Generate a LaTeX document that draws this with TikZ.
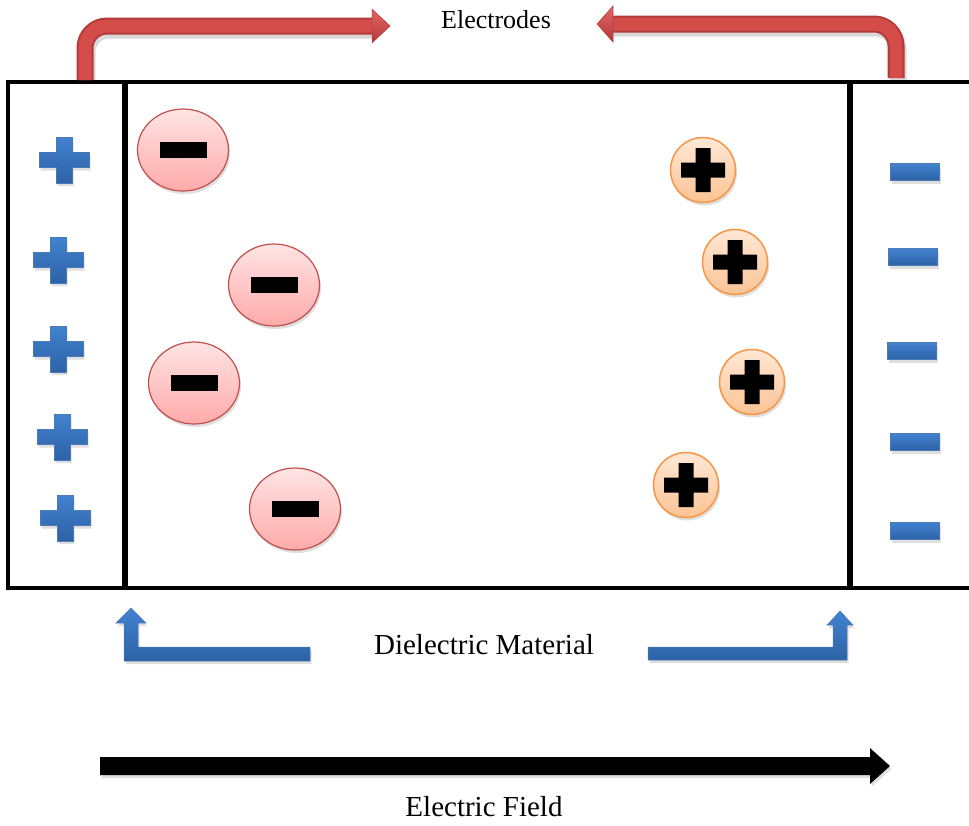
\documentclass[tikz,border=0pt]{standalone}
\usepackage{fontspec}
\setmainfont{Liberation Serif}
\usetikzlibrary{shapes.geometric,shadows}
\definecolor{redA}{HTML}{D34C49}
\definecolor{redD}{HTML}{B43A38}
\definecolor{redL}{HTML}{E06462}
\definecolor{blueT}{HTML}{4282D0}
\definecolor{blueB}{HTML}{2D62A6}
\definecolor{pinkT}{HTML}{FFE4E4}
\definecolor{pinkB}{HTML}{FFAAAA}
\definecolor{pinkE}{HTML}{C0504D}
\definecolor{orT}{HTML}{FFE8D6}
\definecolor{orB}{HTML}{FBC394}
\definecolor{orE}{HTML}{F79646}
\tikzset{
  frame/.style={line width=4.5pt},
  plate/.style={line width=6.5pt},
  soft/.style={drop shadow={opacity=0.25, shadow xshift=1.5pt, shadow yshift=-3pt}},
  bluefill/.style={top color=blueT, bottom color=blueB, draw=blueB!85!white, line width=0.5pt},
  negc/.style={ellipse, minimum width=91pt, minimum height=82pt, top color=pinkT, bottom color=pinkB, draw=pinkE, line width=1.2pt, soft, inner sep=0pt},
  posc/.style={circle, minimum size=65pt, top color=orT, bottom color=orB, draw=orE, line width=1.5pt, soft, inner sep=0pt},
  bar/.style={rectangle, fill=black, minimum width=47pt, minimum height=16pt, inner sep=0pt},
  bminus/.style={rectangle, bluefill, minimum width=49pt, minimum height=17pt, inner sep=0pt, soft},
  redshadow/.style={line width=17pt, draw=black, opacity=0.15, rounded corners=22pt},
  redouter/.style={line width=17pt, draw=redD, rounded corners=22pt},
  redinner/.style={line width=13pt, draw=redA, rounded corners=22pt},
  redhigh/.style={line width=4pt, draw=redL, rounded corners=22pt},
  redhead/.style={top color=redL, bottom color=redD, draw=redD, line width=0.5pt},
  lbl/.style={font=\fontsize{29}{34}\selectfont, inner sep=0pt},
  bplus/.pic={\path[bluefill, soft] (-25,-7.5) -- (-8,-7.5) -- (-8,-23) -- (8,-23) -- (8,-7.5) -- (25,-7.5) -- (25,7.5) -- (8,7.5) -- (8,23) -- (-8,23) -- (-8,7.5) -- (-25,7.5) -- cycle;},
  kplus/.pic={\fill[black] (-22,-7.5) -- (-7.5,-7.5) -- (-7.5,-22) -- (7.5,-22) -- (7.5,-7.5) -- (22,-7.5) -- (22,7.5) -- (7.5,7.5) -- (7.5,22) -- (-7.5,22) -- (-7.5,7.5) -- (-22,7.5) -- cycle;}
}
\begin{document}
\begin{tikzpicture}[x=1pt,y=-1pt]
\useasboundingbox (0,0) rectangle (969,825);

% frame and plates
\coordinate (tr) at (969,82);
\coordinate (tl) at (8,82);
\coordinate (bl) at (8,588);
\coordinate (br) at (969,588);
\draw[frame] (tr) -- (tl) -- (bl) -- (br);
\coordinate (pl1) at (125,82);
\coordinate (pl2) at (125,590);
\coordinate (pr1) at (850,82);
\coordinate (pr2) at (850,590);
\draw[plate] (pl1) -- (pl2);
\draw[plate] (pr1) -- (pr2);

% red electrode arrows
\coordinate (eL0) at (85,80);
\coordinate (eL1) at (85,26);
\coordinate (eL2) at (373,26);
\coordinate (eLs0) at (87,84);
\coordinate (eLs1) at (87,30);
\coordinate (eLs2) at (373,30);
\draw[redshadow] (eLs0) -- (eLs1) -- (eLs2);
\draw[redouter] (eL0) -- (eL1) -- (eL2);
\draw[redinner] (eL0) -- (eL1) -- (eL2);
\path[redhead] (372,9) -- (390,26) -- (372,43) -- cycle;

\coordinate (eR0) at (896,78);
\coordinate (eR1) at (896,24);
\coordinate (eR2) at (612,24);
\coordinate (eRs0) at (898,82);
\coordinate (eRs1) at (898,28);
\coordinate (eRs2) at (612,28);
\draw[redshadow] (eRs0) -- (eRs1) -- (eRs2);
\draw[redouter] (eR0) -- (eR1) -- (eR2);
\draw[redinner] (eR0) -- (eR1) -- (eR2);
\path[redhead] (613,6) -- (597,24) -- (613,42) -- cycle;

\node[font=\fontsize{26}{30}\selectfont, inner sep=0pt] (el) at (496,20) {Electrodes};

% blue plus signs on left electrode
\pic (bp1) at (64,160) {bplus};
\pic (bp2) at (58,260) {bplus};
\pic (bp3) at (58,349) {bplus};
\pic (bp4) at (62,437) {bplus};
\pic (bp5) at (65,518) {bplus};

% blue minus signs on right electrode
\node[bminus] (bm1) at (915,172) {};
\node[bminus] (bm2) at (913,257) {};
\node[bminus] (bm3) at (912,351) {};
\node[bminus] (bm4) at (915,442) {};
\node[bminus] (bm5) at (915,531) {};

% negative charges
\node[negc] (n1) at (183,150) {};
\node[negc] (n2) at (274,285) {};
\node[negc] (n3) at (194,383) {};
\node[negc] (n4) at (295,509) {};
\node[bar] (n1b) at (n1) {};
\node[bar] (n2b) at (n2) {};
\node[bar] (n3b) at (n3) {};
\node[bar] (n4b) at (n4) {};

% positive charges
\node[posc] (q1) at (703,170) {};
\node[posc] (q2) at (735,262) {};
\node[posc] (q3) at (752,382) {};
\node[posc] (q4) at (686,485) {};
\pic (q1k) at (q1) {kplus};
\pic (q2k) at (q2) {kplus};
\pic (q3k) at (q3) {kplus};
\pic (q4k) at (q4) {kplus};

% blue bent arrows
\path[bluefill, soft] (116,623) -- (131,608) -- (146,623) -- (138,623) -- (138,647) -- (310,647) -- (310,661) -- (124,661) -- (124,623) -- cycle;
\path[bluefill, soft] (648,647) -- (833,647) -- (833,625) -- (827,625) -- (840,611) -- (853,625) -- (847,625) -- (847,660) -- (648,660) -- cycle;
\node[lbl] (dm) at (484,645) {Dielectric Material};

% electric field arrow
\coordinate (f0) at (100,766);
\coordinate (f1) at (890,766);
\path[fill=black, soft] (100,757) -- (870,757) -- (870,748) -- (890,766) -- (870,784) -- (870,775) -- (100,775) -- cycle;
\node[lbl] (ef) at (484,807) {Electric Field};
\end{tikzpicture}
\end{document}
